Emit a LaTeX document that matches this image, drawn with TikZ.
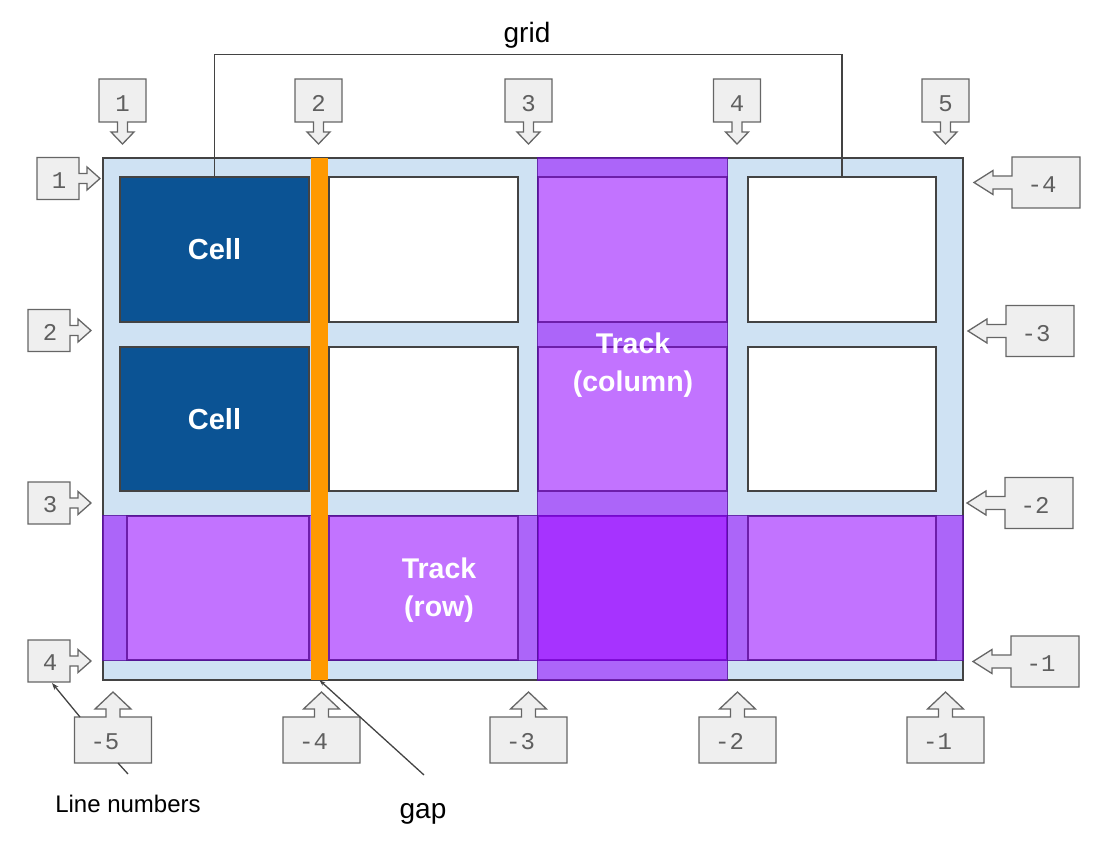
\documentclass[tikz,border=0pt]{standalone}
\usepackage{fontspec}
\setmainfont{Liberation Sans}
\setmonofont{Liberation Mono}
\usetikzlibrary{arrows.meta}
\definecolor{gridbg}{HTML}{CFE2F3}
\definecolor{cellblue}{HTML}{0B5394}
\definecolor{gaporange}{HTML}{FF9900}
\definecolor{trackpurple}{HTML}{9000FF}
\definecolor{trackedge}{HTML}{4A148C}
\definecolor{lineg}{HTML}{434343}
\definecolor{callfill}{HTML}{EFEFEF}
\definecolor{callline}{HTML}{666666}
\definecolor{calltext}{HTML}{5F5F5F}
\tikzset{
  callout/.style={draw=callline, fill=callfill, line width=1.3pt, line join=miter},
  numtxt/.style={font=\ttfamily\fontsize{24}{24}\selectfont, text=calltext, inner sep=0pt},
  cellbox/.style={draw=lineg, line width=1.2pt, fill=white, inner sep=0pt},
  bluecell/.style={cellbox, fill=cellblue, text=white, font=\bfseries\fontsize{29}{29}\selectfont},
  tracklbl/.style={text=white, font=\bfseries\fontsize{28.5}{38}\selectfont, align=center, inner sep=0pt},
  trackband/.style={fill=trackpurple, fill opacity=0.55, draw=trackedge, draw opacity=0.7, line width=1.1pt},
  conn/.style={draw=lineg, line width=1.3pt},
  lbl/.style={font=\fontsize{28}{28}\selectfont, text=black, inner sep=0pt},
}
\newcommand{\calldown}[3]{%
  \draw[callout] (#2-23.5,79) -- (#2+23.5,79) -- (#2+23.5,122) -- (#2+5,122) -- (#2+5,132) -- (#2+11.5,132) -- (#2,144) -- (#2-11.5,132) -- (#2-5,132) -- (#2-5,122) -- (#2-23.5,122) -- cycle;
  \node[numtxt] (#1) at (#2,103.5) {#3};}
\newcommand{\callleft}[4]{%
  \draw[callout] (#2,#3-21) -- (#2+42,#3-21) -- (#2+42,#3-5) -- (#2+50,#3-5) -- (#2+50,#3-11.5) -- (#2+63,#3) -- (#2+50,#3+11.5) -- (#2+50,#3+5) -- (#2+42,#3+5) -- (#2+42,#3+21) -- (#2,#3+21) -- cycle;
  \node[numtxt] (#1) at (#2+22,#3+2) {#4};}
\newcommand{\callright}[4]{%
  \draw[callout] (#2+68,#3-25.5) -- (#2+68,#3+25.5) -- (#2,#3+25.5) -- (#2,#3+6.5) -- (#2-19,#3+6.5) -- (#2-19,#3+12) -- (#2-38,#3) -- (#2-19,#3-12) -- (#2-19,#3-6.5) -- (#2,#3-6.5) -- (#2,#3-25.5) -- cycle;
  \node[numtxt] (#1) at (#2+30,#3+2.5) {#4};}
\newcommand{\callup}[3]{%
  \draw[callout] (#2-38.5,763) -- (#2+38.5,763) -- (#2+38.5,717) -- (#2+7,717) -- (#2+7,709) -- (#2+18,709) -- (#2,692) -- (#2-18,709) -- (#2-7,709) -- (#2-7,717) -- (#2-38.5,717) -- cycle;
  \node[numtxt] (#1) at (#2-8,741.5) {#3};}
\begin{document}
\begin{tikzpicture}[x=1pt,y=-1pt]
\useasboundingbox (0,0) rectangle (1102,858);
% grid container
\node[draw=lineg, line width=1.3pt, fill=gridbg, minimum width=860pt, minimum height=522pt, inner sep=0pt] (grid) at (533,419) {};
% row 1
\node[bluecell, minimum width=189pt, minimum height=145pt] (c11) at (214.5,249.5) {Cell};
\node[cellbox, minimum width=189pt, minimum height=145pt] (c12) at (423.5,249.5) {};
\node[cellbox, minimum width=189pt, minimum height=145pt] (c13) at (632.5,249.5) {};
\node[cellbox, minimum width=188pt, minimum height=145pt] (c14) at (842,249.5) {};
% row 2
\node[bluecell, minimum width=189pt, minimum height=144pt] (c21) at (214.5,419) {Cell};
\node[cellbox, minimum width=189pt, minimum height=144pt] (c22) at (423.5,419) {};
\node[cellbox, minimum width=189pt, minimum height=144pt] (c23) at (632.5,419) {};
\node[cellbox, minimum width=188pt, minimum height=144pt] (c24) at (842,419) {};
% row 3
\node[cellbox, minimum width=182pt, minimum height=144pt] (c31) at (218,588) {};
\node[cellbox, minimum width=189pt, minimum height=144pt] (c32) at (423.5,588) {};
\node[cellbox, minimum width=189pt, minimum height=144pt] (c33) at (632.5,588) {};
\node[cellbox, minimum width=188pt, minimum height=144pt] (c34) at (842,588) {};
% tracks
\path[trackband] (grid.west |- c32.north) rectangle (grid.east |- c32.south);
\path[trackband] (c13.west |- grid.north) rectangle (c13.east |- grid.south);
\node[tracklbl] (trackcol) at (633,365) {Track\\(column)};
\node[tracklbl] (trackrow) at (439,590) {Track\\(row)};
% gap
\node[fill=gaporange, minimum width=17pt, minimum height=522pt, inner sep=0pt] (gapbar) at (319.5,419) {};
% grid bracket
\draw[conn] (c11.north) -- ++(0,-122) -| (c14.north);
\node[lbl, anchor=base] (gridlbl) at (527,43) {grid};
% top line numbers
\calldown{t1}{122.5}{1}
\calldown{t2}{318.5}{2}
\calldown{t3}{528.5}{3}
\calldown{t4}{737}{4}
\calldown{t5}{945.5}{5}
% left line numbers
\callleft{l1}{37}{178.5}{1}
\callleft{l2}{28}{330.5}{2}
\callleft{l3}{28}{503}{3}
\callleft{l4}{28}{661}{4}
% right line numbers
\callright{r4}{1012}{182.5}{-4}
\callright{r3}{1006}{331}{-3}
\callright{r2}{1005}{503}{-2}
\callright{r1}{1011}{661.5}{-1}
% bottom line numbers
\callup{b5}{113}{-5}
\callup{b4}{321.5}{-4}
\callup{b3}{528.5}{-3}
\callup{b2}{737.5}{-2}
\callup{b1}{945.5}{-1}
% labels
\node[lbl, font=\fontsize{24}{24}\selectfont, anchor=base] (linenum) at (128,812) {Line numbers};
\coordinate (lnA) at (80,717);
\coordinate (lnB) at (52,683);
\draw[conn, -{Stealth[length=7pt,width=5pt]}] (lnA) -- (lnB);
\coordinate (lnC) at (118,763);
\coordinate (lnD) at (128,774);
\draw[conn] (lnC) -- (lnD);
\node[lbl, anchor=base] (gaplbl) at (423,818) {gap};
\coordinate (gapA) at (424,775);
\draw[conn, -{Stealth[length=6pt,width=4pt]}] (gapA) -- (gapbar.south);
\end{tikzpicture}
\end{document}
